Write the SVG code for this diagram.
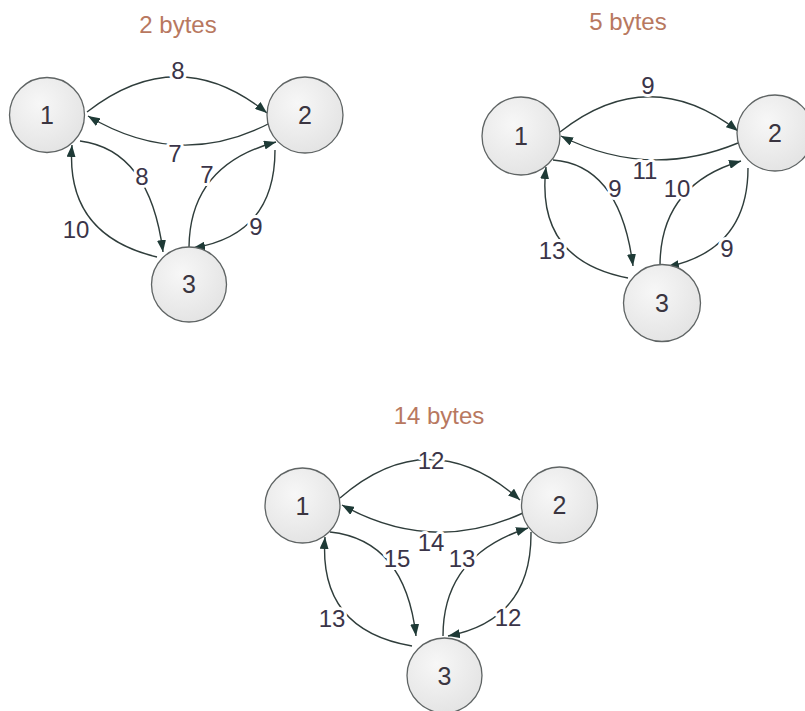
<svg xmlns="http://www.w3.org/2000/svg" width="805" height="711" viewBox="0 0 805 711">
  <defs>
    <radialGradient id="nodeFill" cx="0.4" cy="0.35" r="0.7">
      <stop offset="0" stop-color="#f7f7f7"/>
      <stop offset="1" stop-color="#e3e3e3"/>
    </radialGradient>
    <marker id="arr" viewBox="0 0 12 9" refX="12" refY="4.5" markerWidth="12" markerHeight="9" markerUnits="userSpaceOnUse" orient="auto">
      <path d="M0,0 L12,4.5 L0,9 Z" fill="#1e3a36"/>
    </marker>
  </defs>
  <style>
    .node circle { fill: url(#nodeFill); stroke: #5f6464; stroke-width: 1.3; }
    .node text { font-family: "Liberation Sans", Arial, sans-serif; font-size: 25px; fill: #3a3540; text-anchor: middle; }
    .edges path { fill: none; stroke: #2f3d3b; stroke-width: 1.4; marker-end: url(#arr); }
    .lbl { font-family: "Liberation Sans", Arial, sans-serif; font-size: 24px; fill: #3a3448; text-anchor: middle; stroke: #ffffff; stroke-width: 6; paint-order: stroke; stroke-linejoin: round; }
    .title { font-family: "Liberation Sans", Arial, sans-serif; font-size: 24px; fill: #b87860; text-anchor: middle; }
  </style>
  <rect width="805" height="711" fill="#ffffff"/>

  <!-- Graph 1 -->
  <text class="title" x="178" y="33">2 bytes</text>
  <g id="g1-edges" class="edges">
    <path d="M 87,112 Q 178,41 267,113"/>
    <path d="M 272,122 Q 180,171 88,116"/>
    <path d="M 80,141 Q 150,150 163,252"/>
    <path d="M 157,257 Q 65,235 72,145"/>
    <path d="M 189,247 Q 190,165 276,142"/>
    <path d="M 275,150 Q 275,235 193,248"/>
  </g>
  <g id="g1-labels">
    <text class="lbl" x="178" y="79">8</text>
    <text class="lbl" x="175" y="162">7</text>
    <text class="lbl" x="142" y="185">8</text>
    <text class="lbl" x="207" y="183">7</text>
    <text class="lbl" x="76" y="238">10</text>
    <text class="lbl" x="256" y="235">9</text>
  </g>
  <g id="g1-n1" class="node"><circle cx="47" cy="115" r="37.5"/><text x="47" y="124">1</text></g>
  <g id="g1-n2" class="node"><circle cx="305" cy="115" r="38"/><text x="305" y="124">2</text></g>
  <g id="g1-n3" class="node"><circle cx="189" cy="284.5" r="37.5"/><text x="189" y="293">3</text></g>

  <!-- Graph 2 -->
  <text class="title" x="628" y="30">5 bytes</text>
  <g id="g2-edges" class="edges">
    <path d="M 560,132 Q 649,62 738,131"/>
    <path d="M 738,143 Q 648,180 561,136"/>
    <path d="M 553,160 Q 620,165 633,266"/>
    <path d="M 628,278 Q 535,260 546,167"/>
    <path d="M 660,266 Q 660,185 741,161"/>
    <path d="M 748,168 Q 748,250 667,267"/>
  </g>
  <g id="g2-labels">
    <text class="lbl" x="648" y="94">9</text>
    <text class="lbl" x="645" y="179">11</text>
    <text class="lbl" x="615" y="197">9</text>
    <text class="lbl" x="677" y="197">10</text>
    <text class="lbl" x="552" y="259">13</text>
    <text class="lbl" x="727" y="257">9</text>
  </g>
  <g id="g2-n1" class="node"><circle cx="521" cy="136" r="39"/><text x="521" y="145">1</text></g>
  <g id="g2-n2" class="node"><circle cx="775" cy="133" r="38"/><text x="775" y="142">2</text></g>
  <g id="g2-n3" class="node"><circle cx="662" cy="303" r="38.5"/><text x="662" y="312">3</text></g>

  <!-- Graph 3 -->
  <text class="title" x="439" y="424">14 bytes</text>
  <g id="g3-edges" class="edges">
    <path d="M 340,498 Q 430,420 520,500"/>
    <path d="M 523,513 Q 432,555 342,505"/>
    <path d="M 330,532 Q 405,540 416,636"/>
    <path d="M 412,646 Q 318,630 325,537"/>
    <path d="M 443,636 Q 443,555 528,528"/>
    <path d="M 531,532 Q 532,620 448,636"/>
  </g>
  <g id="g3-labels">
    <text class="lbl" x="431" y="469">12</text>
    <text class="lbl" x="431" y="551">14</text>
    <text class="lbl" x="397" y="567">15</text>
    <text class="lbl" x="462" y="567">13</text>
    <text class="lbl" x="332" y="627">13</text>
    <text class="lbl" x="508" y="626">12</text>
  </g>
  <g id="g3-n1" class="node"><circle cx="302.5" cy="505.5" r="37.5"/><text x="302.5" y="514.5">1</text></g>
  <g id="g3-n2" class="node"><circle cx="559.5" cy="505" r="38"/><text x="559.5" y="514">2</text></g>
  <g id="g3-n3" class="node"><circle cx="444.5" cy="675.5" r="37.5"/><text x="444.5" y="684.5">3</text></g>
</svg>
